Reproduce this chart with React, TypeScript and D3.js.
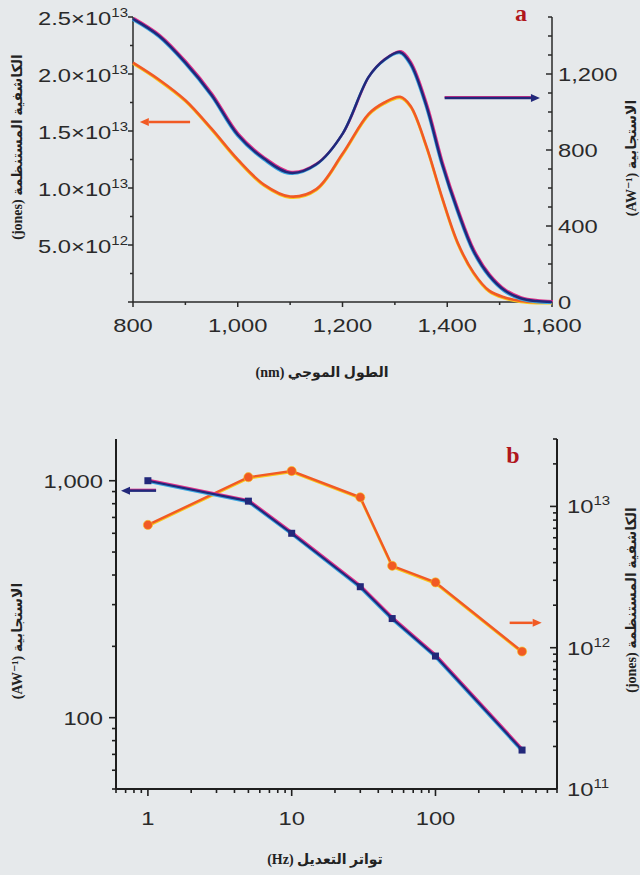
import React from "react";
import * as d3 from "d3";

// panel a: spectral response
const wavelength = [800, 850, 900, 950, 1000, 1050, 1100, 1150, 1200, 1250, 1280, 1310, 1330, 1360, 1390, 1420, 1450, 1480, 1510, 1540, 1570, 1600];
const responsivityA = [1490, 1400, 1260, 1090, 880, 755, 680, 725, 885, 1185, 1275, 1315, 1255, 1035, 730, 480, 270, 140, 60, 20, 5, 0];
const detectivityA = [2.1e13, 1.95e13, 1.77e13, 1.52e13, 1.25e13, 1.03e13, 9.25e12, 9.9e12, 1.3e13, 1.65e13, 1.75e13, 1.8e13, 1.72e13, 1.37e13, 9.2e12, 5.2e12, 2.6e12, 1.0e12, 4e11, 1e11, 0, 0];
const leftTicksA = [[5e12, "5.0", "12"], [1e13, "1.0", "13"], [1.5e13, "1.5", "13"], [2e13, "2.0", "13"], [2.5e13, "2.5", "13"]] as const;
const rightTicksA = [0, 400, 800, 1200];
const bottomTicksA = [800, 1000, 1200, 1400, 1600];

// panel b: modulation frequency
const frequency = [1, 5, 10, 30, 50, 100, 400];
const responsivityB = [1000, 820, 600, 357, 262, 182, 73];
const detectivityB = [7.4e12, 1.61e13, 1.78e13, 1.16e13, 3.8e12, 2.9e12, 9.4e11];
const leftTicksB = [100, 1000];
const rightTicksB = [11, 12, 13];
const bottomTicksB = [1, 10, 100];

const ORANGE = "#f15a24";
const YELLOW = "#f8c81c";
const NAVY = "#22287a";
const PINK = "#e0308a";
const CYAN = "#3aa8e0";
const INK = "#2a2a2a";
const RED = "#b0161c";
const SX = 1.25;
const fmt = d3.format(",");
const sans = "Liberation Sans, Arial, sans-serif";
const serif = "Liberation Serif, DejaVu Sans, serif";

const T = ({ x, y, anchor = "middle", size = 19, children }: any) => (
  <text transform={`translate(${x},${y}) scale(${SX},1)`} textAnchor={anchor} fontSize={size} fontFamily={sans} fill={INK}>
    {children}
  </text>
);

const Arrow = ({ x1, x2, y, color, under }: any) => {
  const dir = x2 > x1 ? 1 : -1;
  const tip = x2;
  const base = x2 - dir * 9;
  return (
    <g>
      {under && <line x1={x1} x2={base} y1={y - 1} y2={y - 1} stroke={under} strokeWidth={2} />}
      <line x1={x1} x2={base} y1={y} y2={y} stroke={color} strokeWidth={2.5} />
      <path d={`M${tip},${y} L${base},${y - 4} L${base},${y + 4} Z`} fill={color} />
    </g>
  );
};

const VTitle = ({ x, y, children }: any) => (
  <text transform={`translate(${x},${y}) rotate(-90)`} textAnchor="middle" fontSize={14} fontWeight="bold" fontFamily={serif} fill="#222">
    {children}
  </text>
);

export default function App() {
  // panel a scales
  const xA = d3.scaleLinear().domain([800, 1600]).range([133, 552]);
  const yAL = d3.scaleLinear().domain([0, 2.5e13]).range([302, 17]);
  const yAR = d3.scaleLinear().domain([0, 1500]).range([302, 17]);
  const lineAR = d3.line<number>().x((_, i) => xA(wavelength[i])).y((d) => yAR(d)).curve(d3.curveCatmullRom);
  const lineAL = d3.line<number>().x((_, i) => xA(wavelength[i])).y((d) => yAL(d)).curve(d3.curveCatmullRom);

  // panel b scales
  const xB = d3.scaleLog().domain([0.6, 700]).range([116, 557]);
  const yBL = d3.scaleLog().domain([50, 1500]).range([789, 439]);
  const yBR = d3.scaleLog().domain([1e11, 3e13]).range([789, 439]);
  const lineBL = d3.line<number>().x((_, i) => xB(frequency[i])).y((d) => yBL(d));
  const lineBR = d3.line<number>().x((_, i) => xB(frequency[i])).y((d) => yBR(d));

  const isPow10 = (v: number) => Math.abs(Math.log10(v) - Math.round(Math.log10(v))) < 1e-9;

  return (
    <svg width={640} height={875} style={{ position: "absolute", left: 0, top: 0, background: "#e6e9eb" }}>
      <rect width={640} height={875} fill="#e6e9eb" />

      {/* ---------- panel a ---------- */}
      <g stroke={INK} strokeWidth={1.5} fill="none">
        <line x1={133} x2={133} y1={yAL(2.5e13)} y2={302} />
        <line x1={133} x2={552} y1={302} y2={302} />
        <line x1={552} x2={552} y1={yAR(1500)} y2={302} />
        {d3.range(0, 2.5e13 + 1, 2.5e12).map((v, i) => (
          <line key={"la" + i} x1={133} x2={i % 2 ? 130 : 128} y1={yAL(v)} y2={yAL(v)} />
        ))}
        {d3.range(800, 1601, 100).map((v, i) => (
          <line key={"ba" + i} x1={xA(v)} x2={xA(v)} y1={302} y2={i % 2 ? 305 : 307} />
        ))}
        {d3.range(0, 1501, 100).map((v, i) => (
          <line key={"ra" + i} x1={552} x2={v % 400 === 0 ? 546 : 548} y1={yAR(v)} y2={yAR(v)} />
        ))}
      </g>
      {leftTicksA.map(([v, m, e]) => (
        <T key={"lta" + v} x={128} y={yAL(v) + 8} anchor="end">
          {m}×10<tspan fontSize={12} dy={-8}>{e}</tspan>
        </T>
      ))}
      {rightTicksA.map((v) => (
        <T key={"rta" + v} x={558} y={yAR(v) + 7} anchor="start">{fmt(v)}</T>
      ))}
      {bottomTicksA.map((v) => (
        <T key={"bta" + v} x={xA(v)} y={332}>{fmt(v)}</T>
      ))}

      <path d={lineAL(detectivityA) || ""} transform="translate(0,1.2)" stroke={YELLOW} strokeWidth={2.5} fill="none" />
      <path d={lineAL(detectivityA) || ""} stroke={ORANGE} strokeWidth={2.6} fill="none" />
      <path d={lineAR(responsivityA) || ""} transform="translate(0.8,-1)" stroke={PINK} strokeWidth={2.2} fill="none" />
      <path d={lineAR(responsivityA) || ""} transform="translate(-0.6,1)" stroke={CYAN} strokeWidth={2.2} fill="none" />
      <path d={lineAR(responsivityA) || ""} stroke={NAVY} strokeWidth={2.5} fill="none" />

      <Arrow x1={xA(909)} x2={xA(813)} y={yAL(1.58e13)} color={ORANGE} />
      <Arrow x1={xA(1395)} x2={xA(1577)} y={yAR(1074)} color={NAVY} under={PINK} />

      <text x={521} y={21} textAnchor="middle" fontSize={24} fontWeight="bold" fontFamily={serif} fill={RED}>a</text>
      <text x={322} y={377} textAnchor="middle" fontSize={14} fontWeight="bold" fontFamily={serif} fill="#222">(nm) الطول الموجي</text>
      <VTitle x={22} y={147}>(jones) الكاشفية المستنظمة</VTitle>
      <VTitle x={636} y={158}>(AW⁻¹) الاستجابية</VTitle>

      {/* ---------- panel b ---------- */}
      <g stroke="#1e1e1e" strokeWidth={2} fill="none">
        <line x1={116} x2={116} y1={439} y2={789} />
        <line x1={116} x2={557} y1={789} y2={789} />
        <line x1={557} x2={557} y1={439} y2={789} />
        {yBL.ticks().map((v, i) => (
          <line key={"lb" + i} x1={116} x2={isPow10(v) ? 109 : 112} y1={yBL(v)} y2={yBL(v)} strokeWidth={1.6} />
        ))}
        {xB.ticks().map((v, i) => (
          <line key={"bb" + i} x1={xB(v)} x2={xB(v)} y1={789} y2={isPow10(v) ? 796 : 793} strokeWidth={1.6} />
        ))}
        {yBR.ticks().map((v, i) => (
          <line key={"rb" + i} x1={557} x2={isPow10(v) ? 550 : 553} y1={yBR(v)} y2={yBR(v)} strokeWidth={1.6} />
        ))}
      </g>
      {leftTicksB.map((v) => (
        <T key={"ltb" + v} x={103} y={yBL(v) + 7} anchor="end">{fmt(v)}</T>
      ))}
      {rightTicksB.map((e) => (
        <T key={"rtb" + e} x={567} y={yBR(Math.pow(10, e)) + 7} anchor="start">
          10<tspan fontSize={12} dy={-8}>{e}</tspan>
        </T>
      ))}
      {bottomTicksB.map((v) => (
        <T key={"btb" + v} x={xB(v)} y={825}>{fmt(v)}</T>
      ))}

      <path d={lineBR(detectivityB) || ""} transform="translate(0,1.2)" stroke={YELLOW} strokeWidth={2.3} fill="none" />
      <path d={lineBR(detectivityB) || ""} stroke={ORANGE} strokeWidth={2.4} fill="none" />
      {detectivityB.map((d, i) => (
        <circle key={"cb" + i} cx={xB(frequency[i])} cy={yBR(d)} r={4.6} fill={ORANGE} stroke={YELLOW} strokeWidth={0.6} />
      ))}
      <path d={lineBL(responsivityB) || ""} transform="translate(0.8,-1)" stroke={PINK} strokeWidth={2} fill="none" />
      <path d={lineBL(responsivityB) || ""} transform="translate(-0.6,1)" stroke={CYAN} strokeWidth={2} fill="none" />
      <path d={lineBL(responsivityB) || ""} stroke={NAVY} strokeWidth={2.2} fill="none" />
      {responsivityB.map((d, i) => (
        <rect key={"sb" + i} x={xB(frequency[i]) - 3.5} y={yBL(d) - 3.5} width={7} height={7} fill={NAVY} />
      ))}

      <Arrow x1={xB(1.14)} x2={xB(0.65)} y={yBL(908)} color={NAVY} under={PINK} />
      <Arrow x1={xB(328)} x2={xB(548)} y={yBR(1.5e12)} color={ORANGE} />

      <text x={513} y={463} textAnchor="middle" fontSize={24} fontWeight="bold" fontFamily={serif} fill={RED}>b</text>
      <text x={325} y={864} textAnchor="middle" fontSize={14} fontWeight="bold" fontFamily={serif} fill="#222">(Hz) تواتر التعديل</text>
      <VTitle x={22} y={641}>(AW⁻¹) الاستجابية</VTitle>
      <VTitle x={636} y={600}>(jones) الكاشفية المستنظمة</VTitle>
    </svg>
  );
}
